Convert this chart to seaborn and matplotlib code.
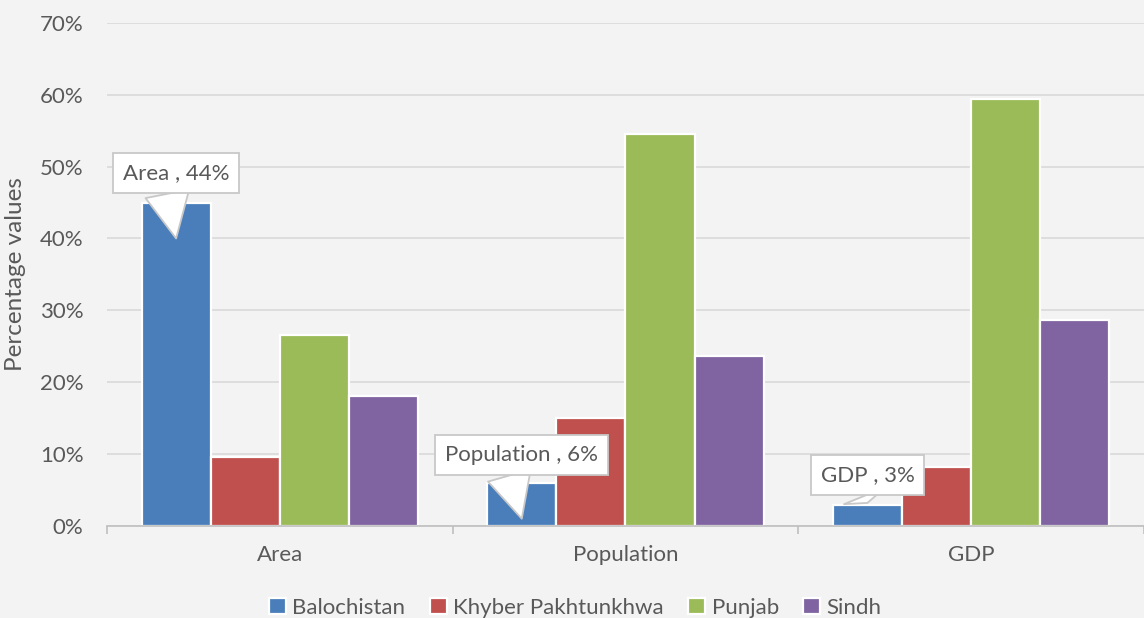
import matplotlib
matplotlib.use("Agg")
import matplotlib.pyplot as plt
import seaborn as sns
import pandas as pd
from matplotlib.ticker import PercentFormatter, FixedLocator

# data
categories = ["Area", "Population", "GDP"]
provinces = ["Balochistan", "Khyber Pakhtunkhwa", "Punjab", "Sindh"]
balochistan = [44.9, 6.0, 2.9]
khyber_pakhtunkhwa = [9.6, 15.0, 8.2]
punjab = [26.6, 54.6, 59.4]
sindh = [18.1, 23.7, 28.7]

# callouts on the Balochistan bars
callout_labels = ["Area , 44%", "Population , 6%", "GDP , 3%"]
callout_tips = [40.0, 1.0, 3.2]
callout_offsets = [47, 46, 20]

colors = ["#4a7ebb", "#c0504d", "#9bbb59", "#8064a2"]
bg = "#f2f3f2"
text_color = "#595959"

rows = []
for prov, vals in zip(provinces, [balochistan, khyber_pakhtunkhwa, punjab, sindh]):
    for cat, v in zip(categories, vals):
        rows.append({"category": cat, "province": prov, "value": v})
df = pd.DataFrame(rows)

sns.set_theme(style="whitegrid")
plt.rcParams["font.family"] = ["Lato", "DejaVu Sans"]

fig = plt.figure(figsize=(11.44, 6.18), dpi=100, facecolor=bg)
ax = fig.add_axes([0.0935, 0.149, 0.9065, 0.814], facecolor=bg)

sns.barplot(data=df, x="category", y="value", hue="province", order=categories,
            hue_order=provinces, palette=colors, saturation=1, width=0.8,
            edgecolor="white", linewidth=1.6, ax=ax, legend=True)

ax.set_xlim(-0.5, 2.5)
ax.set_ylim(0, 70)
ax.yaxis.set_major_locator(FixedLocator(range(0, 71, 10)))
ax.yaxis.set_major_formatter(PercentFormatter(decimals=0))
ax.xaxis.set_minor_locator(FixedLocator([-0.5, 0.5, 1.5, 2.5]))

ax.grid(False)
ax.yaxis.grid(True, color="#d9d9d9", lw=1.2)
ax.set_axisbelow(True)
for s in ["top", "right", "left"]:
    ax.spines[s].set_visible(False)
ax.spines["bottom"].set_color("#bfbfbf")
ax.spines["bottom"].set_linewidth(1.2)

ax.tick_params(axis="y", length=0, pad=17, labelsize=16, labelcolor=text_color)
ax.tick_params(axis="x", which="major", length=0, pad=14, labelsize=16, labelcolor=text_color)
ax.tick_params(axis="x", which="minor", length=6, width=1.2, color="#bfbfbf", bottom=True)

ax.set_xlabel("")
ax.set_ylabel("Percentage values", fontsize=17.5, color=text_color)
ax.yaxis.set_label_coords(-0.078, 0.5)

# callouts
for bar, label, tip, off in zip(ax.containers[0], callout_labels, callout_tips, callout_offsets):
    x = bar.get_x() + bar.get_width() / 2
    ax.annotate(label, xy=(x, tip), xytext=(0, off), textcoords="offset points",
                ha="center", va="center", fontsize=16, color=text_color,
                bbox=dict(boxstyle="square,pad=0.45", fc="white", ec="#c8c8c8", lw=1.3),
                arrowprops=dict(arrowstyle="wedge,tail_width=2.0,shrink_factor=0.5",
                                fc="white", ec="#c8c8c8", lw=1.3, relpos=(0.38, 0.5),
                                shrinkA=0, shrinkB=0))

handles, labels = ax.get_legend_handles_labels()
ax.get_legend().remove()
fig.legend(handles, labels, loc="center", bbox_to_anchor=(0.503, 1 - 608 / 618),
           ncol=4, frameon=False, fontsize=16, labelcolor=text_color,
           handlelength=0.75, handleheight=0.75, handletextpad=0.3, columnspacing=1.1)

fig.savefig("out.png", dpi=100, facecolor=bg)
